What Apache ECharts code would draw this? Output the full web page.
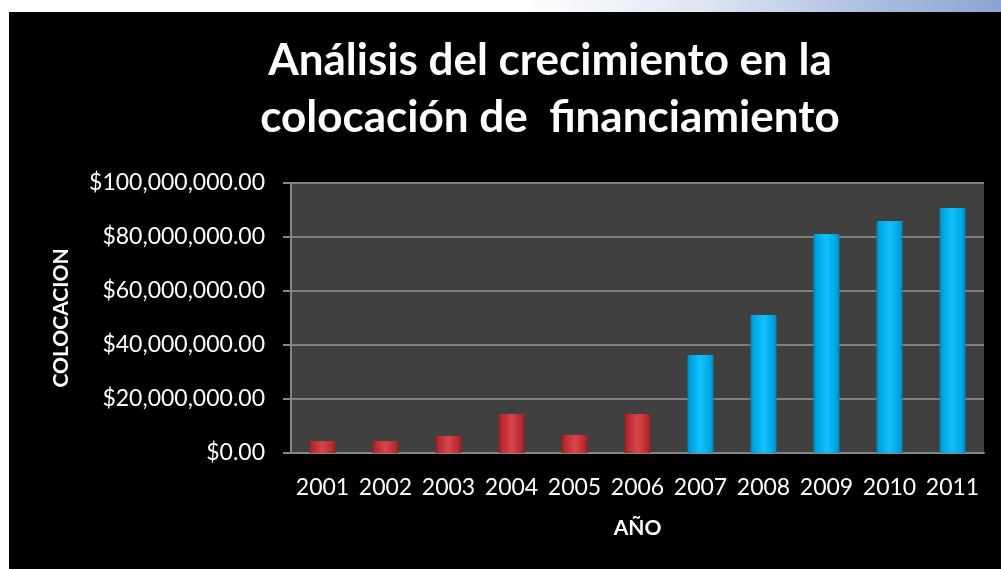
<!DOCTYPE html>
<html>
<head>
<meta charset="utf-8">
<script src="https://cdn.jsdelivr.net/npm/echarts@6/dist/echarts.min.js"></script>
<style>
html,body{margin:0;padding:0;background:#fff;width:1001px;height:569px;overflow:hidden;}
#strip{position:absolute;left:0;top:0;width:1001px;height:12px;background:linear-gradient(to right,#ffffff 0%,#ffffff 52%,#dfe6f2 70%,#a9bcde 88%,#8ba5d2 100%);}
#chart{position:absolute;left:9px;top:12px;width:992px;height:557px;}
</style>
</head>
<body>
<div id="strip"></div>
<div id="chart"></div>
<script>
const categories = ['2001','2002','2003','2004','2005','2006','2007','2008','2009','2010','2011'];
const values = [4400000, 4400000, 6300000, 14400000, 6700000, 14400000, 36300000, 51100000, 81100000, 85900000, 90700000];
const groups = ['red','red','red','red','red','red','blue','blue','blue','blue','blue'];
const yTicks = [0, 20000000, 40000000, 60000000, 80000000, 100000000];
const titleText = 'Análisis del crecimiento en la\ncolocación de  financiamiento';
const yName = 'COLOCACION';
const xName = 'AÑO';

const palette = {
  red: ['#8e2224', '#d9454a', '#b8292e'],
  blue: ['#0085b8', '#10c0ff', '#00a5e0']
};
function grad(g){
  const c = palette[g];
  return {type:'linear',x:0,y:0,x2:1,y2:0,colorStops:[
    {offset:0,color:c[0]},{offset:0.12,color:c[2]},{offset:0.5,color:c[1]},{offset:0.88,color:c[2]},{offset:1,color:c[0]}]};
}
function fmt(v){
  return '$' + v.toLocaleString('en-US',{minimumFractionDigits:2,maximumFractionDigits:2});
}
const font = 'Lato';
const chart = echarts.init(document.getElementById('chart'));
chart.setOption({
  backgroundColor:'#000000',
  animation:false,
  textStyle:{fontFamily:font},
  title:{
    text:titleText,
    left:536, top:15, textAlign:'center',
    textStyle:{color:'#ffffff',fontSize:44,fontWeight:'bold',fontFamily:font,lineHeight:57}
  },
  grid:{left:282,top:171,right:17,bottom:116,containLabel:false,
    show:true,backgroundColor:'#404040',borderWidth:0},
  xAxis:{
    type:'category',data:categories,
    axisLine:{show:true,lineStyle:{color:'#868686',width:2}},
    axisTick:{show:false},
    axisLabel:{color:'#ffffff',fontSize:23,fontFamily:font,margin:23,interval:0,hideOverlap:false},
    name:xName,nameLocation:'middle',nameGap:65,
    nameTextStyle:{color:'#ffffff',fontSize:21,fontWeight:'bold',fontFamily:font}
  },
  yAxis:{
    type:'value',min:yTicks[0],max:yTicks[yTicks.length-1],interval:yTicks[1]-yTicks[0],
    axisLine:{show:true,lineStyle:{color:'#868686',width:2}},
    axisTick:{show:true,length:8,lineStyle:{color:'#868686',width:2}},
    splitLine:{show:true,lineStyle:{color:'#808080',width:2}},
    axisLabel:{color:'#ffffff',fontSize:23,fontFamily:font,margin:26,formatter:fmt},
    name:yName,nameLocation:'middle',nameGap:219,nameRotate:90,
    nameTextStyle:{color:'#ffffff',fontSize:21,fontWeight:'bold',fontFamily:font}
  },
  series:[{
    type:'bar',barWidth:26,
    data:values.map((v,i)=>({value:v,itemStyle:{color:grad(groups[i])}}))
  }]
});
</script>
</body>
</html>
